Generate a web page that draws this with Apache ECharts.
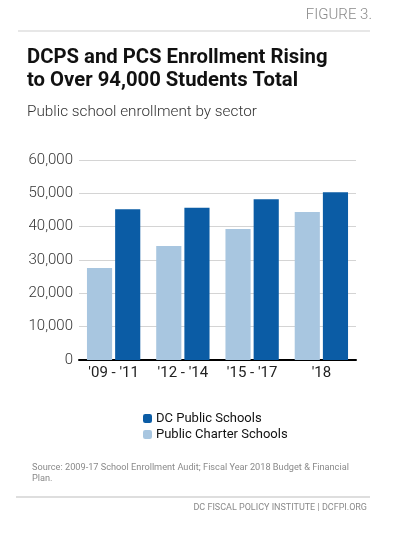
<!DOCTYPE html>
<html><head><meta charset="utf-8">
<script src="https://cdn.jsdelivr.net/npm/echarts@6/dist/echarts.min.js"></script>
<style>html,body{margin:0;padding:0;background:#fff}#c{width:393px;height:540px}</style>
</head><body><div id="c"></div>
<script>
const categories = ["'09 - '11", "'12 - '14", "'15 - '17", "'18"];
const dcps = [45200, 45700, 48200, 50300];
const pcs = [27600, 34200, 39300, 44400];
const yTicks = [0, 10000, 20000, 30000, 40000, 50000, 60000];
const seriesNames = ["DC Public Schools", "Public Charter Schools"];

const FONT = 'Roboto, "Liberation Sans", sans-serif';
const chart = echarts.init(document.getElementById('c'), null, {renderer: 'canvas'});
chart.setOption({
  animation: false,
  backgroundColor: '#fff',
  textStyle: {fontFamily: FONT},
  graphic: [
    {type: 'text', right: 21, top: 8, style: {text: 'FIGURE 3.', fontSize: 15, fill: '#8a8a8a', fontFamily: FONT, fontWeight: 300}},
    {type: 'line', shape: {x1: 18, y1: 31, x2: 370, y2: 31}, style: {stroke: '#cfcfcf', lineWidth: 1}},
    {type: 'text', left: 27, top: 46, style: {text: 'DCPS and PCS Enrollment Rising\nto Over 94,000 Students Total', fontSize: 20.3, lineHeight: 23, fill: '#111', fontWeight: 'bold', fontFamily: FONT}},
    {type: 'text', left: 27, top: 105, style: {text: 'Public school enrollment by sector', fontSize: 15.3, fill: '#333', fontWeight: 300, fontFamily: FONT}},
    {type: 'text', left: 32, top: 462, style: {text: 'Source: 2009-17 School Enrollment Audit; Fiscal Year 2018 Budget & Financial\nPlan.', fontSize: 9.2, lineHeight: 11, fill: '#8a8a8a', fontFamily: FONT}},
    {type: 'line', shape: {x1: 16, y1: 497, x2: 370, y2: 497}, style: {stroke: '#bdbdbd', lineWidth: 1}},
    {type: 'text', right: 26, top: 503, style: {text: 'DC FISCAL POLICY INSTITUTE | DCFPI.ORG', fontSize: 9, fill: '#8a8a8a', fontFamily: FONT}}
  ],
  legend: {
    orient: 'vertical', left: 138, top: 407,
    itemWidth: 9, itemHeight: 9, itemGap: 3,
    data: [seriesNames[0], seriesNames[1]],
    textStyle: {fontSize: 13, color: '#111', fontFamily: FONT, padding: [0, 0, 0, -1]}
  },
  grid: {left: 79, right: 37, top: 160, bottom: 180, containLabel: false},
  xAxis: {
    type: 'category', data: categories,
    axisLine: {lineStyle: {color: '#000', width: 2}},
    axisTick: {show: false},
    axisLabel: {fontSize: 15, color: '#222', margin: 6, fontFamily: FONT}
  },
  yAxis: {
    type: 'value', min: 0, max: 60000, interval: 10000,
    axisLine: {show: false}, axisTick: {show: false},
    splitLine: {lineStyle: {color: '#d4d4d4', width: 1}},
    axisLabel: {fontSize: 15, color: '#333', margin: 6, fontFamily: FONT, fontWeight: 300,
      formatter: v => yTicks.includes(v) ? v.toLocaleString('en-US') : ''}
  },
  series: [
    {name: seriesNames[1], type: 'bar', data: pcs, itemStyle: {color: '#a8c6e0'}, barGap: '12%', barCategoryGap: '23%'},
    {name: seriesNames[0], type: 'bar', data: dcps, itemStyle: {color: '#0b5ca5'}}
  ]
});
</script></body></html>
